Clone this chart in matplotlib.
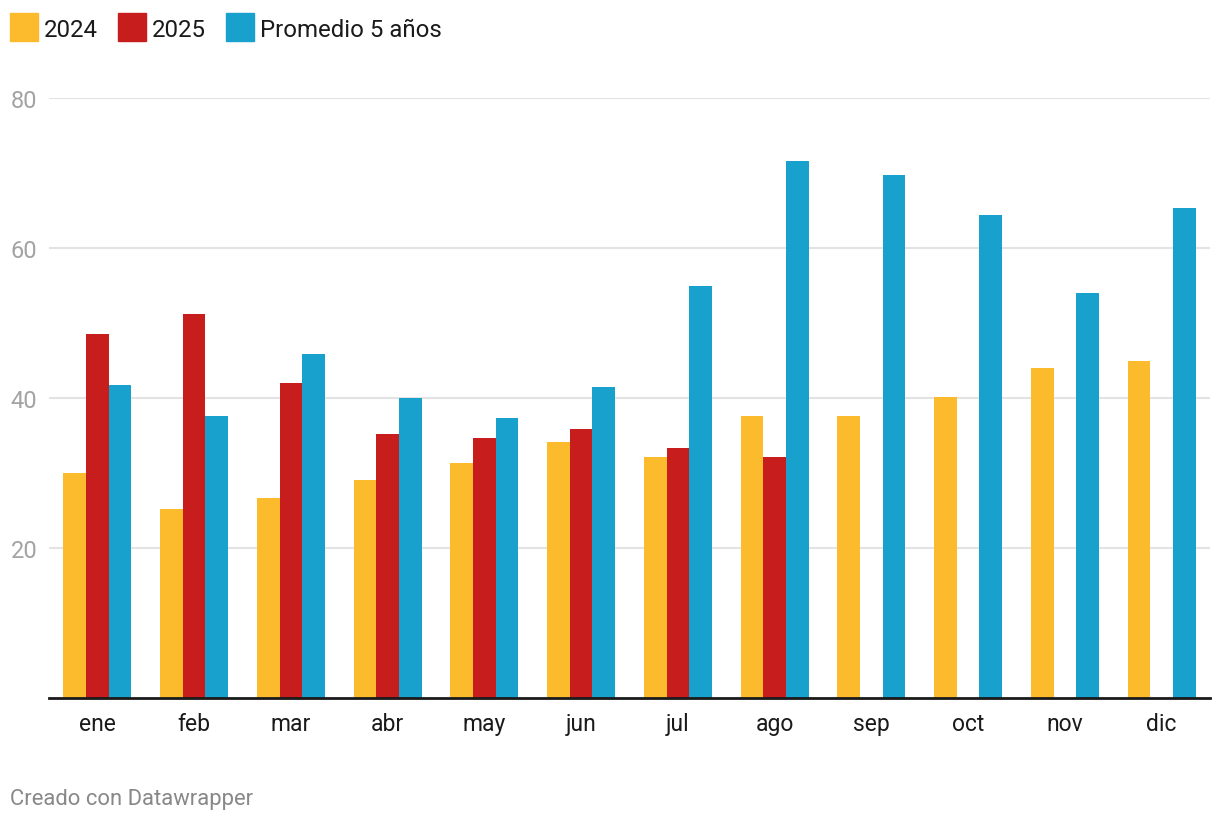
import numpy as np
import matplotlib
matplotlib.use("Agg")
from matplotlib import pyplot as plt
from matplotlib.patches import Rectangle

plt.rcParams['font.family'] = ['Roboto', 'DejaVu Sans']

meses = ["ene", "feb", "mar", "abr", "may", "jun", "jul", "ago", "sep", "oct", "nov", "dic"]
v2024 = [30.0, 25.2, 26.7, 29.1, 31.3, 34.1, 32.1, 37.6, 37.6, 40.1, 44.0, 44.9]
v2025 = [48.5, 51.2, 42.0, 35.2, 34.7, 35.9, 33.3, 32.1, np.nan, np.nan, np.nan, np.nan]
promedio = [41.7, 37.6, 45.9, 40.0, 37.3, 41.5, 54.9, 71.6, 69.7, 64.4, 54.0, 65.3]
series = ["2024", "2025", "Promedio 5 años"]
colores = ["#fbbb2c", "#c71e1d", "#18a1cd"]

W, H = 1220, 820
fig = plt.figure(figsize=(W/100, H/100), dpi=100)
ax = fig.add_axes([49/W, 1-699/H, (1210-49)/W, 600/H])

x = np.arange(len(meses))
w = 0.234
for i, vals in enumerate([v2024, v2025, promedio]):
    ax.bar(x + (i-1)*w, vals, width=w, color=colores[i], zorder=2)

ax.set_xlim(-0.5, 11.5)
ax.set_ylim(0, 80)
ax.set_yticks([20, 40, 60, 80])
ax.grid(axis='y', color='#e3e3e3', linewidth=1.5, zorder=0)
for s in ['top', 'right', 'left']:
    ax.spines[s].set_visible(False)
ax.spines['bottom'].set_color('#1a1a1a')
ax.spines['bottom'].set_linewidth(2)
ax.set_xticks(x)
ax.set_xticklabels(meses, fontsize=16.5, color='#1a1a1a')
ax.tick_params(axis='x', length=0, pad=10)
ax.tick_params(axis='y', length=0, pad=8.5, labelsize=17, labelcolor='#a3a3a3')

# legend drawn by hand, datawrapper style
patch_x = [10, 118, 226]
for px, c, lab in zip(patch_x, colores, series):
    fig.patches.append(Rectangle((px/W, 1-42/H), 28/W, 28/H, color=c,
                                 transform=fig.transFigure, figure=fig))
    fig.text((px+34)/W, 1-28/H, lab, fontsize=17.3, color='#1a1a1a',
             va='center_baseline', ha='left')

fig.text(10/W, 1-797/H, "Creado con Datawrapper", fontsize=15.8, color='#888888',
         va='center_baseline', ha='left')

fig.savefig("out.png", dpi=100)
